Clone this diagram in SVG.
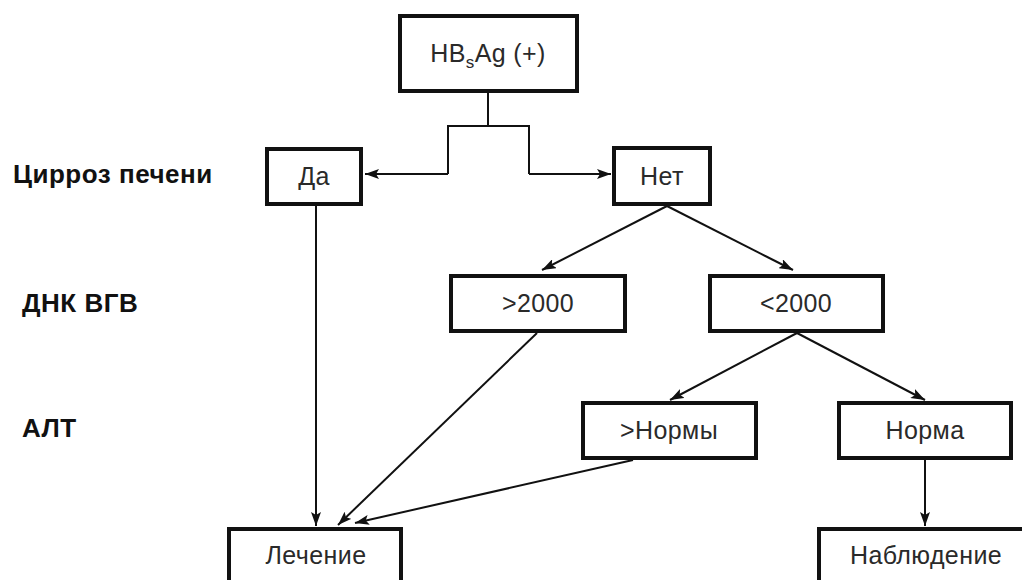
<svg xmlns="http://www.w3.org/2000/svg" width="1022" height="580" viewBox="0 0 1022 580">
<defs>
<style>
.box{fill:#fff;stroke:#111;stroke-width:4}
.t{font-family:"Liberation Sans",Arial,sans-serif;font-size:25px;letter-spacing:0.4px;fill:#2a2a2a;text-anchor:middle}
.lab{font-family:"Liberation Sans",Arial,sans-serif;font-size:26px;letter-spacing:0.5px;font-weight:bold;fill:#111}
.c{fill:none;stroke:#111;stroke-width:2}
.ca{fill:none;stroke:#111;stroke-width:2;marker-end:url(#arr)}
</style>
<marker id="arr" viewBox="0 0 14 10" refX="14" refY="5" markerWidth="14" markerHeight="10" markerUnits="userSpaceOnUse" orient="auto">
<path d="M0,0 L14,5 L0,10 L3,5 Z" fill="#111"/>
</marker>
</defs>
<rect width="1022" height="580" fill="#fff"/>
<g id="labels">
<text class="lab" x="13" y="183">Цирроз печени</text>
<text class="lab" x="22" y="312">ДНК ВГВ</text>
<text class="lab" x="22" y="437">АЛТ</text>
</g>
<g id="connectors">
<path class="c" d="M488,93 V126 M448,174 V126 H529 V174"/>
<path class="ca" d="M448,174 H365"/>
<path class="ca" d="M529,174 H611"/>
<path class="ca" d="M667,206 L542,270"/>
<path class="ca" d="M667,206 L793,270"/>
<path class="ca" d="M316,206 V526"/>
<path class="ca" d="M537,333 L338,525"/>
<path class="ca" d="M633,460 L355,523"/>
<path class="ca" d="M797,333 L670,400"/>
<path class="ca" d="M797,333 L925,400"/>
<path class="ca" d="M925,460 V526"/>
</g>
<g id="n-hbsag"><rect class="box" x="400" y="16" width="177" height="75"/><text class="t" x="488" y="62">HB<tspan font-size="17" dy="6">s</tspan><tspan dy="-6">Ag (+)</tspan></text></g>
<g id="n-da"><rect class="box" x="267" y="149" width="94" height="55"/><text class="t" x="314" y="185">Да</text></g>
<g id="n-net"><rect class="box" x="614" y="148" width="96" height="56"/><text class="t" x="662" y="185">Нет</text></g>
<g id="n-gt2000"><rect class="box" x="451" y="276" width="174" height="55"/><text class="t" x="538" y="312">&gt;2000</text></g>
<g id="n-lt2000"><rect class="box" x="710" y="276" width="173" height="55"/><text class="t" x="796" y="312">&lt;2000</text></g>
<g id="n-gtnorm"><rect class="box" x="583" y="403" width="173" height="55"/><text class="t" x="669" y="439">&gt;Нормы</text></g>
<g id="n-norm"><rect class="box" x="839" y="403" width="172" height="55"/><text class="t" x="925" y="439">Норма</text></g>
<g id="n-treat"><rect class="box" x="229" y="529" width="172" height="57"/><text class="t" x="316" y="564">Лечение</text></g>
<g id="n-observe"><rect class="box" x="819" y="529" width="213" height="57"/><text class="t" x="926" y="564">Наблюдение</text></g>
</svg>
